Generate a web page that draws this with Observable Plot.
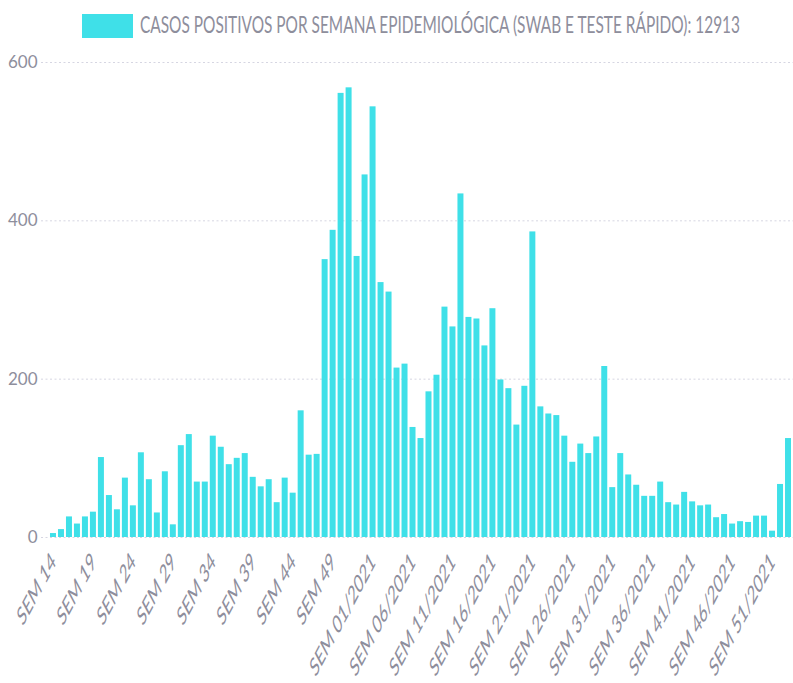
<!DOCTYPE html>
<html><head><meta charset="utf-8">
<script src="https://cdn.jsdelivr.net/npm/d3@7"></script>
<script src="https://cdn.jsdelivr.net/npm/@observablehq/plot@0.6"></script>
<style>
html,body{margin:0;padding:0;overflow:hidden;background:#fff;width:793px;height:683px}
#legend{position:relative;height:50px;}
#swatch{position:absolute;left:82px;top:14px;width:51px;height:24px;background:#3fe0e8}
#ltext{position:absolute;left:140px;top:12px;font-family:Lato,"Open Sans",sans-serif;font-weight:400;font-size:24px;line-height:24px;color:#8e8e9c;white-space:nowrap;transform-origin:0 0}
</style></head><body>
<div id="legend"><div id="swatch"></div><span id="ltext"></span></div>
<div id="chart"></div>
<script>
const seriesName = "CASOS POSITIVOS POR SEMANA EPIDEMIOLÓGICA (SWAB E TESTE RÁPIDO): 12913";

const weeks = [
  "SEM 14","SEM 15","SEM 16","SEM 17","SEM 18","SEM 19","SEM 20","SEM 21","SEM 22","SEM 23",
  "SEM 24","SEM 25","SEM 26","SEM 27","SEM 28","SEM 29","SEM 30","SEM 31","SEM 32","SEM 33",
  "SEM 34","SEM 35","SEM 36","SEM 37","SEM 38","SEM 39","SEM 40","SEM 41","SEM 42","SEM 43",
  "SEM 44","SEM 45","SEM 46","SEM 47","SEM 48","SEM 49","SEM 50","SEM 51","SEM 52","SEM 53",
  "SEM 01/2021","SEM 02/2021","SEM 03/2021","SEM 04/2021","SEM 05/2021","SEM 06/2021","SEM 07/2021","SEM 08/2021","SEM 09/2021","SEM 10/2021",
  "SEM 11/2021","SEM 12/2021","SEM 13/2021","SEM 14/2021","SEM 15/2021","SEM 16/2021","SEM 17/2021","SEM 18/2021","SEM 19/2021","SEM 20/2021",
  "SEM 21/2021","SEM 22/2021","SEM 23/2021","SEM 24/2021","SEM 25/2021","SEM 26/2021","SEM 27/2021","SEM 28/2021","SEM 29/2021","SEM 30/2021",
  "SEM 31/2021","SEM 32/2021","SEM 33/2021","SEM 34/2021","SEM 35/2021","SEM 36/2021","SEM 37/2021","SEM 38/2021","SEM 39/2021","SEM 40/2021",
  "SEM 41/2021","SEM 42/2021","SEM 43/2021","SEM 44/2021","SEM 45/2021","SEM 46/2021","SEM 47/2021","SEM 48/2021","SEM 49/2021","SEM 50/2021",
  "SEM 51/2021","SEM 52/2021","SEM 01/2022"
];

const cases = [
  5,10,26,17,26,32,101,53,35,75,
  40,107,73,31,83,16,116,130,70,70,
  128,114,92,100,106,76,64,73,44,75,
  56,160,104,105,351,388,561,568,355,458,
  544,322,310,214,219,139,125,184,205,291,
  266,434,278,276,242,289,199,188,142,191,
  386,165,156,154,128,95,118,106,127,216,
  63,106,79,66,52,52,70,44,41,57,
  45,40,41,25,29,17,20,19,27,27,
  8,67,125
];

const tickLabels = [
  "SEM 14","SEM 19","SEM 24","SEM 29","SEM 34","SEM 39","SEM 44","SEM 49",
  "SEM 01/2021","SEM 06/2021","SEM 11/2021","SEM 16/2021","SEM 21/2021","SEM 26/2021",
  "SEM 31/2021","SEM 36/2021","SEM 41/2021","SEM 46/2021","SEM 51/2021"
];
const yTicks = [0, 200, 400, 600];

const barColor = "#3fe0e8";
const textColor = "#8e8e9c";

const lt = document.getElementById("ltext");
lt.textContent = seriesName;
const w = lt.getBoundingClientRect().width;
lt.style.transform = `scaleX(${600 / w})`;

const data = weeks.map((week, i) => ({week, cases: cases[i]}));

const chart = Plot.plot({
  width: 793,
  height: 633,
  marginTop: 12,
  marginBottom: 146,
  marginLeft: 41,
  marginRight: -7,
  style: {fontFamily: "Lato, 'Open Sans', sans-serif", fontWeight: 400, color: textColor, background: "#fff"},
  x: {type: "band", domain: weeks, paddingInner: 0.25, paddingOuter: 1.125},
  y: {domain: [0, 600]},
  marks: [
    Plot.gridY(yTicks, {stroke: "#d6d6e2", strokeOpacity: 1, strokeDasharray: "2,2.5"}),
    Plot.barY(data, {x: "week", y: "cases", fill: barColor}),
    Plot.axisY(yTicks, {tickSize: 0, tickPadding: 4, fontSize: 17, label: null, fill: textColor}),
    Plot.axisX(tickLabels, {tickSize: 0, tickPadding: 20, tickRotate: -45, fontSize: 26, label: null, fill: textColor})
  ]
});
document.getElementById("chart").appendChild(chart);

d3.select(chart).selectAll('g[aria-label="x-axis tick label"] text').each(function() {
  const t = this.getAttribute("transform") || "";
  this.setAttribute("transform", t.replace("rotate", "scale(0.53,1) rotate"));
});
</script>
</body></html>
